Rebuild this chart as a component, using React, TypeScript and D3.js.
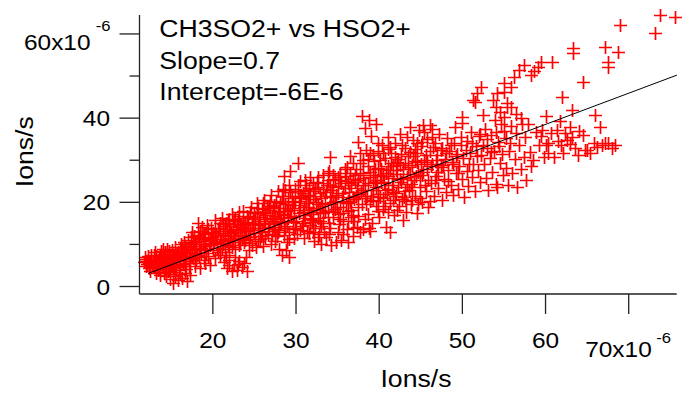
import React from 'react';
import * as d3 from 'd3';

// ---------- data (units of 1e-6 ions/s) ----------
const xTicks = [20, 30, 40, 50, 60];
const xLastTick = 70;
const yMajorTicks = [0, 20, 40];
const yTopTick = 60;
const yMinorTicks = [10, 30, 50];
const exponentLabel = '-6';
const axisLabel = 'Ions/s';
const titleLines = ['CH3SO2+ vs HSO2+', 'Slope=0.7', 'Intercept=-6E-6'];
const fitSlope = 0.741;
const fitIntercept = -5.95;
const fitXRange = [12.2, 75.8];
const xDomain = [11.18, 75.77];
const yDomain = [-1.78, 64.5];

type P = [number, number];

const clusterA: P[] = [[11.7,5.8],[11.9,6.5],[12.0,4.9],[12.2,7.2],[12.3,5.5],[12.5,3.8],[12.6,6.3],[12.8,4.6],[12.9,7.5],[13.0,5.2],[13.1,8.1],[13.3,6.0],[13.4,3.9],[13.5,7.0],[13.6,4.8],[13.8,8.4],[13.9,5.7],[14.0,6.6],[14.1,3.2],[14.2,7.8],[14.3,5.0],[14.5,9.0],[14.6,6.2],[14.7,4.2],[14.8,7.4],[15.0,5.6],[15.1,8.6],[15.2,3.5],[15.3,6.9],[15.5,9.4],[15.6,4.9],[15.7,7.7],[15.9,6.1],[16.0,8.9],[16.1,3.0],[16.2,10.1],[16.4,5.3],[16.5,7.3]];
const lowOutliers: P[] = [[14.4,2.4],[14.8,1.8],[15.2,0.9],[15.5,2.6],[15.8,1.5],[16.3,2.0],[16.6,3.3],[16.9,1.2],[17.2,2.7],[14.9,3.0],[15.9,3.9],[13.7,2.8],[13.2,3.3]];
const clusterB: P[] = [[16.7,9.5],[16.8,6.0],[17.0,11.0],[17.1,4.8],[17.3,8.2],[17.4,10.3],[17.6,6.8],[17.7,12.0],[17.9,5.5],[18.0,9.1],[18.1,7.4],[18.3,11.6],[18.4,4.5],[18.5,13.2],[18.6,8.0],[18.8,10.2],[18.9,6.3],[19.0,12.4],[19.2,9.0],[19.3,14.7],[19.4,7.2],[19.6,11.1],[19.7,5.2],[19.8,13.0],[20.0,8.6],[20.1,10.7],[20.2,15.8],[20.3,6.7],[18.2,15.0],[18.7,14.2],[17.5,13.0]];
const clusterC: P[] = [[20.4,12.3],[20.5,9.2],[20.7,14.0],[20.8,7.5],[21.0,11.4],[21.1,16.3],[21.2,10.0],[21.4,13.2],[21.5,8.3],[21.6,15.1],[21.8,11.9],[21.9,9.6],[22.0,14.4],[22.2,12.6],[22.3,17.2],[22.4,10.5],[22.6,15.6],[22.7,8.9],[22.8,13.5],[23.0,11.2],[23.1,16.8],[23.2,9.8],[23.4,14.2],[23.5,12.3],[23.6,18.0],[23.8,10.6],[23.9,15.3],[24.0,13.1]];
const lowBlob: P[] = [[21.3,5.9],[21.7,4.3],[22.0,6.4],[22.3,3.6],[22.5,5.1],[22.9,4.0],[23.2,6.1],[23.5,4.7],[23.8,5.6],[24.1,3.8],[22.7,6.9],[21.9,7.4],[28.3,7.5],[28.8,8.6],[27.9,9.0],[29.2,7.0]];
const clusterD: P[] = [[24.2,16.6],[24.3,11.4],[24.5,14.0],[24.6,19.0],[24.7,9.8],[24.9,12.7],[25.0,17.4],[25.1,15.2],[25.3,19.8],[25.4,10.9],[25.5,13.8],[25.7,16.4],[25.8,12.0],[25.9,18.5],[26.1,14.8],[26.2,20.6],[26.3,11.6],[26.5,16.9],[26.6,13.3],[26.8,19.2],[26.9,15.5],[27.0,21.8],[27.1,12.4],[27.3,17.8],[27.4,14.2],[27.6,20.1],[27.7,16.1],[27.8,22.8],[28.0,13.5],[28.1,18.7],[26.0,9.7],[27.5,10.8]];
const clusterE: P[] = [[28.2,15.0],[28.4,20.3],[28.5,12.2],[28.6,17.3],[28.7,22.9],[28.9,14.4],[29.0,19.5],[29.1,11.3],[29.2,24.0],[29.4,16.6],[29.5,21.4],[29.6,13.7],[29.8,18.6],[29.9,23.2],[30.0,15.6],[30.1,12.4],[30.3,20.4],[30.4,17.5],[30.5,25.0],[30.7,14.3],[30.8,22.1],[30.9,19.0],[31.1,16.2],[31.2,24.2],[31.3,13.2],[31.5,20.9],[31.6,18.1],[31.7,26.0],[31.9,15.4],[32.0,22.6],[28.6,26.2],[29.3,27.5],[30.2,29.3],[34.1,30.8]];
const clusterF: P[] = [[32.1,17.6],[32.3,14.0],[32.4,20.0],[32.5,24.8],[32.7,16.3],[32.8,12.5],[32.9,22.2],[33.1,19.1],[33.2,26.4],[33.3,15.2],[33.5,21.4],[33.6,11.8],[33.7,24.0],[33.9,18.0],[34.0,27.5],[34.1,13.9],[34.3,22.9],[34.4,20.1],[34.5,16.6],[34.7,25.6],[34.8,10.6],[34.9,19.0],[35.1,23.8],[35.2,14.8],[35.3,27.0],[35.5,21.3],[35.6,17.5],[35.7,12.5],[35.9,25.0],[36.0,19.8],[33.0,10.2],[34.2,9.8],[35.4,11.0],[36.2,10.6],[36.8,12.0]];
const clusterG: P[] = [[36.1,28.4],[36.3,15.6],[36.4,22.5],[36.5,31.0],[36.6,18.2],[36.8,25.6],[36.9,14.0],[37.0,20.7],[37.2,28.0],[37.3,23.4],[37.4,34.3],[37.5,16.7],[37.7,26.5],[37.9,40.5],[37.9,19.6],[38.0,30.0],[38.1,13.6],[38.3,24.1],[38.4,32.5],[38.5,21.5],[38.8,39.6],[38.7,17.3],[38.9,27.2],[39.0,35.8],[39.1,15.0],[39.2,22.9],[39.4,29.8],[39.6,38.5],[39.6,19.1],[39.7,25.3],[39.9,32.2],[40.0,16.4],[38.3,37.6],[37.3,14.2],[38.8,14.0],[38.9,31.7],[39.8,34.1]];
const clusterH: P[] = [[40.1,21.3],[40.2,27.8],[40.3,33.6],[40.4,18.4],[40.6,24.6],[40.7,30.5],[40.8,14.2],[40.9,22.0],[41.0,35.4],[41.1,26.3],[41.3,13.0],[41.3,19.8],[41.4,31.8],[41.5,24.0],[41.7,28.6],[41.8,17.0],[41.9,34.0],[42.0,22.2],[42.1,26.8],[42.3,30.3],[42.4,19.2],[42.5,36.2],[42.6,24.9],[42.9,15.8],[42.9,28.0],[43.0,21.2],[43.1,33.0],[43.2,17.8],[43.4,26.0],[43.5,30.9],[43.6,23.0],[43.7,38.0],[43.8,19.5],[44.0,28.8],[44.1,34.8],[44.2,25.2],[44.3,21.6],[44.5,31.6],[44.6,17.4],[44.7,27.1],[44.8,37.1],[44.9,23.7],[45.0,33.4],[46.1,38.3],[45.4,36.7]];
const clusterI: P[] = [[45.1,20.0],[45.2,26.5],[45.3,38.4],[45.4,30.0],[45.6,22.8],[45.7,35.0],[45.8,27.9],[45.9,18.9],[46.1,32.3],[46.2,24.6],[46.3,37.4],[46.4,29.2],[46.6,21.4],[46.7,34.0],[46.8,26.3],[47.0,31.3],[47.1,23.5],[47.2,36.2],[47.4,28.4],[47.5,20.6],[47.6,33.0],[47.8,25.5],[47.9,30.4],[48.0,22.4],[48.2,35.3],[48.3,27.6],[48.4,32.2],[48.6,24.1],[48.7,29.5],[48.9,21.8],[49.0,34.1],[49.1,37.9],[49.2,26.9],[49.4,31.5],[49.5,23.2],[49.6,28.6],[49.8,33.6],[50.0,40.3],[50.0,25.6],[50.0,38.8]];
const clusterJ: P[] = [[50.1,30.6],[50.2,21.3],[50.5,27.4],[50.6,34.6],[50.7,23.8],[50.9,31.7],[51.0,36.8],[51.1,26.0],[51.3,29.0],[51.3,44.3],[51.5,22.6],[51.5,43.8],[51.6,33.4],[51.8,46.0],[51.9,27.7],[52.0,35.7],[52.1,24.8],[52.2,47.4],[52.3,31.2],[52.5,40.8],[52.6,29.0],[52.7,37.4],[52.8,25.8],[53.0,33.0],[53.1,23.0],[53.3,30.5],[53.4,36.0],[53.6,27.3],[53.7,44.3],[53.8,32.1],[54.2,46.0],[54.1,24.4],[54.2,23.6],[54.3,34.4],[54.5,29.4],[54.6,38.6],[54.8,31.4],[54.9,26.6],[55.0,48.4],[55.0,46.2],[55.4,42.7],[54.0,42.6],[55.4,43.6],[55.8,42.7],[53.9,39.5],[55.0,40.2],[56.5,41.0],[57.2,38.5],[54.5,41.5]];
const clusterK: P[] = [[55.2,28.2],[55.3,35.2],[55.5,24.2],[55.6,32.3],[55.8,47.4],[55.9,38.2],[56.0,26.9],[56.2,49.8],[56.3,30.4],[56.4,36.4],[56.6,23.6],[56.8,51.5],[56.8,33.5],[57.0,27.8],[57.1,40.0],[57.4,52.6],[57.4,30.8],[57.5,35.4],[57.7,25.2],[57.9,38.6],[58.2,50.3],[58.1,32.0],[58.3,28.6],[58.5,30.0],[58.6,51.3],[58.8,36.8],[59.1,52.2],[59.2,33.6],[59.4,53.3],[59.6,37.2],[59.8,30.8],[60.0,40.6],[60.3,34.2],[60.6,36.4],[60.8,53.3],[61.0,30.8],[61.4,37.2],[61.7,39.3],[62.0,45.0],[62.1,31.7]];
const clusterL: P[] = [[62.6,34.8],[63.2,35.5],[63.2,42.0],[63.6,33.0],[64.0,37.0],[64.5,36.0],[64.8,32.4],[65.4,31.7],[65.8,34.0],[66.0,40.8],[66.2,33.2],[66.6,38.0],[66.8,33.6],[67.2,34.1],[67.5,34.2],[68.0,33.0],[68.4,33.6],[65.0,32.4],[63.9,31.2],[62.9,37.8],[61.8,33.6],[60.0,33.5],[61.5,34.5],[62.3,36.5],[63.0,33.8],[59.5,35.8],[60.3,31.6],[60.6,36.4],[61.4,37.2]];
const clusterM: P[] = [[63.3,55.5],[63.3,56.7],[67.2,56.9],[68.7,55.7],[67.5,52.2],[67.5,53.3],[69.0,62.1],[73.8,64.5],[75.6,64.0],[73.2,60.2],[64.5,48.6]];
const fillLeft: P[] = [[12.1,5.3],[12.4,6.0],[12.7,5.0],[13.0,6.8],[13.2,4.5],[13.5,5.9],[13.8,6.9],[14.0,5.0],[14.3,8.1],[14.5,5.8],[14.9,6.8],[15.2,7.6],[15.4,5.3],[15.8,8.2],[16.0,6.6],[16.3,9.0],[16.6,5.6],[16.9,7.9],[17.2,9.7],[17.5,7.1],[17.8,10.6],[18.0,6.2],[18.3,9.6],[18.6,11.3],[18.9,8.6],[19.1,10.9],[19.4,12.6],[19.7,9.8],[19.9,11.8],[13.6,3.5],[14.6,3.6],[15.6,3.9],[16.8,4.2],[17.8,4.9]];
const fillMid: P[] = [[20.3,11.4],[20.6,13.1],[20.9,10.3],[21.2,12.2],[21.5,14.3],[21.8,9.9],[22.1,11.5],[22.4,13.6],[22.7,16.0],[23.0,12.9],[23.3,10.6],[23.6,14.7],[23.9,12.1],[24.2,15.2],[24.5,11.7],[24.8,13.4],[25.1,16.4],[25.4,14.6],[25.7,11.3],[26.0,17.4],[26.3,15.0],[26.6,12.3],[26.9,18.1],[27.2,14.9],[27.5,16.8],[27.8,13.0],[28.1,19.8],[28.4,16.9],[28.7,14.0],[29.0,21.1],[29.3,18.2],[29.6,15.3],[29.9,20.3],[29.7,11.6],[28.9,10.6],[27.0,10.1],[25.2,9.4],[24.4,8.7]];
const fillCore: P[] = [[30.3,18.1],[30.6,21.3],[30.9,16.9],[31.2,19.9],[31.5,23.5],[31.8,17.3],[32.1,20.8],[32.4,18.6],[32.7,23.6],[33.0,21.0],[33.3,17.4],[33.6,22.4],[33.9,25.3],[34.2,19.6],[34.5,23.6],[34.8,21.8],[35.1,17.3],[35.4,24.6],[35.7,22.2],[36.0,26.3],[36.3,20.4],[36.6,24.1],[36.9,17.1],[37.2,21.6],[37.5,25.4],[37.8,22.4],[38.1,27.0],[38.4,19.6],[38.7,24.7],[39.0,21.4],[39.3,26.4],[39.6,23.6],[39.9,28.2],[40.2,24.8],[40.5,21.0],[40.8,27.0],[41.1,23.2],[41.4,29.3],[41.7,20.6],[42.0,27.7],[42.3,23.6],[42.6,31.4],[42.9,25.8],[43.2,20.2],[43.5,28.5],[43.8,24.3],[44.1,31.0],[44.4,26.3],[44.7,19.6],[45.0,29.0],[31.0,11.6],[32.2,10.9],[33.4,13.0],[31.7,14.6],[30.5,13.4],[37.4,34.3],[37.7,12.9],[38.9,13.1]];
const fillUpper: P[] = [[45.3,27.2],[45.6,31.2],[45.9,25.2],[46.2,28.6],[46.5,33.1],[46.8,30.0],[47.1,27.1],[47.4,32.4],[47.7,28.9],[48.0,31.6],[48.3,25.0],[48.6,33.7],[48.9,29.0],[49.2,31.0],[49.5,27.0],[49.8,35.6],[50.4,32.5],[50.8,29.0],[51.2,34.2],[51.7,31.0],[52.1,36.3],[52.5,33.6],[53.0,35.1],[53.5,32.0],[54.0,36.7],[54.4,33.4],[55.0,37.0],[55.7,34.1]];
const fill2Left: P[] = [[11.8,7.0],[12.0,6.1],[12.3,4.3],[12.6,7.6],[12.9,5.9],[13.2,7.3],[13.5,4.4],[13.8,5.3],[14.1,7.2],[14.4,4.7],[14.7,8.4],[15.0,6.3],[15.3,4.4],[15.6,7.0],[15.9,5.0],[16.2,7.9],[16.5,10.6],[16.8,8.6],[17.1,6.5],[17.4,11.8],[17.7,8.8],[18.0,10.9],[18.3,6.9],[18.6,9.1],[18.9,12.6],[19.2,7.9],[19.5,10.4],[19.8,14.0],[20.0,12.8],[19.0,5.6]];
const fill2Mid: P[] = [[20.5,10.6],[20.8,15.2],[21.1,8.8],[21.4,11.0],[21.7,13.6],[22.0,16.0],[22.3,9.3],[22.6,12.0],[22.9,14.9],[23.2,17.6],[23.5,11.5],[23.8,13.8],[24.1,16.8],[24.4,10.4],[24.7,14.8],[25.0,12.6],[25.3,17.8],[25.6,15.5],[25.9,13.0],[26.2,16.0],[26.5,18.6],[26.8,13.9],[27.1,16.3],[27.4,19.3],[27.7,12.0],[28.0,17.7],[28.3,21.6],[28.6,15.6],[28.9,18.0],[29.2,13.0],[29.5,19.3],[29.8,16.8],[22.0,5.0],[23.0,5.3],[24.0,7.0],[21.6,7.0]];
const fill2Core: P[] = [[30.2,22.6],[30.5,19.4],[30.8,15.2],[31.1,22.9],[31.4,18.8],[31.7,21.4],[32.0,15.9],[32.3,23.1],[32.6,19.5],[32.9,15.6],[33.2,23.2],[33.5,19.9],[33.8,16.4],[34.1,24.2],[34.4,17.7],[34.7,20.4],[35.0,26.0],[35.3,19.0],[35.6,15.6],[35.9,23.4],[36.2,18.0],[36.5,27.0],[36.8,21.3],[37.1,24.9],[37.4,19.0],[37.7,29.4],[38.0,23.0],[38.3,16.0],[38.6,28.6],[38.9,20.2],[39.2,31.2],[39.5,24.8],[39.8,18.0],[40.1,30.0],[40.4,26.2],[40.7,19.2],[41.0,32.6],[41.3,27.6],[41.6,22.4],[41.9,30.8],[42.2,18.2],[42.5,28.9],[42.8,33.6],[43.1,22.6],[43.4,35.5],[43.7,26.8],[44.0,20.6],[44.3,32.6],[44.6,29.6],[44.9,21.0],[45.2,34.4],[45.5,24.0],[45.8,29.6],[46.1,20.4],[46.4,35.6],[46.7,25.4],[47.0,29.0],[34.0,12.4],[35.0,13.0],[36.1,13.6],[37.0,15.6],[32.6,11.8],[31.5,12.8]];
const fill3A: P[] = [[13.1,5.6],[13.4,6.4],[13.7,7.6],[14.0,8.9],[14.2,5.9],[14.5,7.0],[14.8,5.2],[15.1,7.0],[15.4,8.3],[15.7,6.2],[16.0,4.6],[16.1,7.4],[16.4,8.4],[16.7,7.0],[17.0,9.4],[17.3,5.6],[17.6,10.0],[17.9,7.8],[18.2,12.2],[18.5,8.6],[18.8,11.7],[19.1,9.6],[19.4,13.6],[19.7,11.6],[20.0,10.0],[20.3,13.9],[20.6,8.2],[20.9,12.8],[21.2,14.8],[21.5,10.8],[21.8,15.9],[22.1,13.3]];
const fill3B: P[] = [[22.4,14.9],[22.7,11.0],[23.0,15.8],[23.3,13.6],[23.6,16.2],[23.9,11.0],[24.2,13.9],[24.5,17.6],[24.8,16.0],[25.1,11.4],[25.4,18.6],[25.7,13.9],[26.0,19.8],[26.3,17.6],[26.6,14.2],[26.9,20.4],[27.2,18.9],[27.5,13.6],[27.8,17.9],[28.1,15.3],[28.4,23.2],[28.7,19.7],[29.0,16.2],[29.3,22.4],[29.6,20.0],[29.9,14.0],[30.2,24.0],[30.5,21.0],[30.8,17.8],[31.1,25.4],[31.4,21.8],[31.7,16.0],[32.0,24.6]];
const fill3C: P[] = [[32.3,21.4],[32.6,26.0],[32.9,18.2],[33.2,24.7],[33.5,17.8],[33.8,27.0],[34.1,21.2],[34.4,26.4],[34.7,18.4],[35.0,22.2],[35.3,25.4],[35.6,20.0],[35.9,28.0],[36.2,24.6],[36.5,20.0],[36.8,29.4],[37.1,26.6],[37.4,22.0],[37.7,31.6],[38.0,25.8],[38.3,21.0],[38.6,30.4],[38.9,26.0],[39.2,20.6],[39.5,28.0],[39.8,22.0],[40.1,26.4],[40.4,31.6],[40.7,23.0],[41.0,28.6],[41.3,33.2],[41.6,25.8],[41.9,21.4],[42.2,29.5],[42.5,25.6],[42.8,20.8],[43.1,29.4],[43.4,24.4],[43.7,32.0],[44.0,23.6],[44.3,29.8],[44.6,34.0],[44.9,26.6],[36.6,16.6],[35.3,16.0],[34.0,15.0],[33.0,14.4],[32.0,13.0],[39.8,20.4],[41.0,17.8]];

const allPoints: P[] = [
  ...clusterA, ...lowOutliers, ...clusterB, ...clusterC, ...lowBlob, ...clusterD,
  ...clusterE, ...clusterF, ...clusterG, ...clusterH, ...clusterI, ...clusterJ,
  ...clusterK, ...clusterL, ...clusterM, ...fillLeft, ...fillMid, ...fillCore, ...fillUpper,
  ...fill2Left, ...fill2Mid, ...fill2Core, ...fill3A, ...fill3B, ...fill3C,
];

// ---------- drawing ----------
const W = 685;
const H = 393;
const SX = 1.11;
const FONT = "'Liberation Sans', Arial, Helvetica, sans-serif";

function T(props: { x: number; y: number; size: number; anchor?: string; rotate?: number; children: React.ReactNode }) {
  const { x, y, size, anchor = 'start', rotate = 0, children } = props;
  return (
    <text
      transform={`translate(${x},${y}) rotate(${rotate}) scale(${SX},1)`}
      fontSize={size}
      textAnchor={anchor as any}
      fontFamily={FONT}
      fill="#000"
    >
      {children}
    </text>
  );
}

export default function App() {
  const x = d3.scaleLinear().domain(xDomain).range([139.5, 676.7]);
  const y = d3.scaleLinear().domain(yDomain).range([294, 15]);
  const axisX = x(xDomain[0]);
  const axisY = y(yDomain[0]);
  const arm = 6.5;

  const crossPath = allPoints
    .map(([vx, vy]) => {
      const cx = Math.round(x(vx)) + 0.5;
      const cy = Math.round(y(vy)) + 0.5;
      return `M${cx - arm},${cy}h${2 * arm}M${cx},${cy - arm}v${2 * arm}`;
    })
    .join('');

  const fitLine = d3.line<number>()
    .x((d) => x(d))
    .y((d) => y(fitSlope * d + fitIntercept))(fitXRange);

  const axisColor = '#222';

  return (
    <svg width={W} height={H} style={{ position: 'absolute', left: 0, top: 0, background: '#fff' }}>
      <rect width={W} height={H} fill="#fff" />
      {/* points */}
      <path d={crossPath} stroke="#ff0000" strokeWidth={1.7} fill="none" />
      {/* fit line */}
      <path d={fitLine || ''} stroke="#000" strokeWidth={1} fill="none" />

      {/* axes */}
      <line x1={axisX} x2={axisX} y1={y(yDomain[1])} y2={axisY} stroke={axisColor} strokeWidth={1.3} />
      <line x1={axisX} x2={x(xDomain[1])} y1={axisY} y2={axisY} stroke={axisColor} strokeWidth={1.3} />

      {/* y ticks */}
      {[...yMajorTicks, yTopTick].map((t) => (
        <line key={'ym' + t} x1={axisX - 20} x2={axisX} y1={y(t)} y2={y(t)} stroke={axisColor} strokeWidth={1.3} />
      ))}
      {yMinorTicks.map((t) => (
        <line key={'yn' + t} x1={axisX - 10} x2={axisX} y1={y(t)} y2={y(t)} stroke={axisColor} strokeWidth={1.3} />
      ))}
      {yMajorTicks.map((t) => (
        <T key={'yl' + t} x={110} y={y(t) + 8} size={22} anchor="end">{String(t)}</T>
      ))}
      <T x={90.5} y={y(yTopTick) + 16} size={22} anchor="end">{`${yTopTick}x10`}</T>
      <T x={110.5} y={y(yTopTick) - 3} size={15} anchor="end">{exponentLabel}</T>

      {/* x ticks */}
      {[...xTicks, xLastTick].map((t) => (
        <line key={'xt' + t} x1={x(t)} x2={x(t)} y1={axisY} y2={axisY + 20} stroke={axisColor} strokeWidth={1.3} />
      ))}
      {xTicks.map((t) => (
        <T key={'xl' + t} x={x(t)} y={348} size={22} anchor="middle">{String(t)}</T>
      ))}
      <T x={x(xLastTick) - 43.5} y={356.5} size={22}>{`${xLastTick}x10`}</T>
      <T x={x(xLastTick) + 27.5} y={343} size={15}>{exponentLabel}</T>

      {/* axis labels */}
      <T x={416} y={386.5} size={24} anchor="middle">{axisLabel}</T>
      <T x={33} y={151.7} size={24} anchor="middle" rotate={-90}>{axisLabel}</T>

      {/* annotation */}
      {titleLines.map((s, i) => (
        <T key={'t' + i} x={159.3} y={37 + i * 31.5} size={24}>{s}</T>
      ))}
    </svg>
  );
}
